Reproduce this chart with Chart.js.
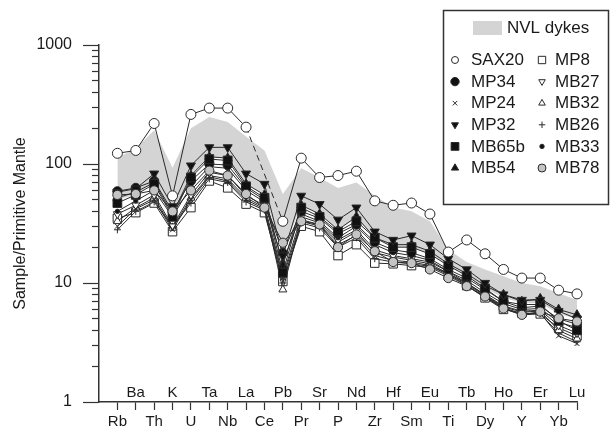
<!DOCTYPE html>
<html><head><meta charset="utf-8">
<script src="https://cdn.jsdelivr.net/npm/chart.js@4/dist/chart.umd.min.js"></script>
<style>html,body{margin:0;padding:0;background:#fff;}</style>
</head><body>
<canvas id="c" width="611" height="430"></canvas>
<script>
// ---------- data ----------
const elements = ['Rb','Ba','Th','K','U','Ta','Nb','La','Ce','Pb','Pr','Sr','P','Nd','Zr','Hf','Sm','Eu','Ti','Tb','Dy','Ho','Y','Er','Yb','Lu'];
const bottomRowLabels = ['Rb','Th','U','Nb','Ce','Pr','P','Zr','Sm','Ti','Dy','Y','Yb'];
const topRowLabels = ['Ba','K','Ta','La','Pb','Sr','Nd','Hf','Eu','Tb','Ho','Er','Lu'];
const yTickValues = [1, 10, 100, 1000];
const yTitle = 'Sample/Primitive Mantle';
const bandLabel = 'NVL dykes';

const nvlLower = [50,55,70,38,80,115,110,68,55,18,45,38,28,35,24,20,20,17.5,14,11.5,9,7.5,6.8,6.8,5.5,5];
const nvlUpper = [113,135,192,93,200,248,225,170,130,56,92,77,63,70,54,43,40,33,19,15,13,11.4,10,9.4,8.2,7.2];

const SAX20 = [123,130,219,54,261,295,295,204,null,33,112,77,80,87,49,45,47,38,18.2,23,17.6,13,11,11,8.7,8.1];
const MP34  = [59,63,72,40,72,100,98,63,50,17.9,40,35,26,31,22,19,18,16,13,11,8.8,7,6.2,6.4,5,4.5];
const MP24  = [30,42,50,28,50,78,72,50,42,11,33,30,21,25,17,15.5,15,14,12,9.8,7.8,6.2,5.5,5.6,3.6,3.1];
const MP32  = [58,62,83,44,97,138,138,83,68,17,54,46,34,43,27,23,25,21,16,13,10,8,7.2,7.2,5.8,5.0];
const MB65b = [47,55,68,36,77,110,107,65,52,12.2,43,36,27,33,24,20,20,17.5,14,11.5,9,7,6.6,6.6,4.8,4.0];
const MB54  = [52,58,70,38,80,115,112,68,55,14,45,38,28,36,24,21,21,18.5,14.5,12,9.5,8,7,7.4,6,5.4];
const MP8   = [35,39,47,27,43,72,63,46,39,10.3,30,27,17,21,14.7,14.5,14,13.5,11.5,9.5,7.5,6,5.6,5.5,4.2,3.6];
const MB27  = [38,45,55,30,55,85,80,54,45,11.5,36,32,23,28,19,17,16,15,12.5,10,8,6.4,5.8,5.9,4.4,3.8];
const MB32  = [33,43,52,29,52,80,75,52,43,8.8,34,31,22,27,18,16.5,15.5,14.5,12,10,7.9,6.3,5.7,5.8,4.0,3.4];
const MB26  = [28,40,48,30,47,75,70,48,41,10,32,29,20,24,16,15,14.5,13.8,11.8,9.6,7.6,6.1,5.4,5.5,3.8,3.2];
const MB33  = [40,49,60,36,65,95,92,60,48,15,38,33,24,30,21,18,17,15.5,12.5,10.5,8.3,6.7,6,6.1,4.7,4.2];
const MB78  = [55,56,60,40,60,88,80,56,43,21.8,33,31,20,25.6,18.5,15,14.7,13,11,9.4,7.7,6.1,5.4,5.75,5.05,4.75];

// ---------- build ----------
const xLabels = [''].concat(elements);
const pad = arr => [null].concat(arr);
const INK = '#2a2a2a';
const FONT = "'Liberation Sans', Arial, Helvetica, sans-serif";
Chart.defaults.font.family = FONT;
Chart.defaults.color = '#1a1a1a';

function sample(label, values, style) {
  return Object.assign({
    label, data: pad(values), borderColor: INK, borderWidth: 1,
    pointBorderColor: INK, pointBorderWidth: 1, tension: 0, fill: false,
    order: 0
  }, style);
}

const samples = [
  sample('SAX20', SAX20, {pointStyle:'circle', pointRadius:5, pointBackgroundColor:'#fff', spanGaps:true,
     segment:{borderDash: c => (c.p0.skip || c.p1.skip) ? [6,4] : undefined}, lgR:3.5}),
  sample('MB78', MB78, {pointStyle:'circle', pointRadius:4.6, pointBackgroundColor:'#c4c4c4', lgR:4}),
  sample('MP32', MP32, {pointStyle:'triangle', pointRotation:180, pointRadius:5.2, pointBackgroundColor:'#111', lgR:4}),
  sample('MB65b', MB65b, {pointStyle:'rect', pointRadius:6.2, pointBackgroundColor:'#111', lgR:5.5}),
  sample('MB54', MB54, {pointStyle:'triangle', pointRadius:5.2, pointBackgroundColor:'#111', lgR:4.2}),
  sample('MP34', MP34, {pointStyle:'circle', pointRadius:4.6, pointBackgroundColor:'#111', lgR:4.2}),
  sample('MB33', MB33, {pointStyle:'circle', pointRadius:2.2, pointBackgroundColor:'#111', lgR:2.2}),
  sample('MP24', MP24, {pointStyle:'crossRot', pointRadius:3.5, pointBackgroundColor:'#111', lgR:3.2}),
  sample('MB27', MB27, {pointStyle:'triangle', pointRotation:180, pointRadius:4.6, pointBackgroundColor:'#fff', lgR:3.8}),
  sample('MB32', MB32, {pointStyle:'triangle', pointRadius:4.6, pointBackgroundColor:'#fff', lgR:3.8}),
  sample('MB26', MB26, {pointStyle:'cross', pointRadius:3.5, pointBackgroundColor:'#111', lgR:3.2}),
  sample('MP8', MP8, {pointStyle:'rect', pointRadius:6, pointBackgroundColor:'#fff', lgR:5.2}),
];

const datasets = [
  {label:'nvl-low', data: pad(nvlLower), borderWidth:0, pointRadius:0, fill:false, order:10, tension:0},
  {label:bandLabel, data: pad(nvlUpper), borderWidth:0, pointRadius:0, fill:'-1', backgroundColor:'#d4d4d4', order:10, tension:0},
].concat(samples);

const legendLeft = ['SAX20','MP34','MP24','MP32','MB65b','MB54'];
const legendRight = ['MP8','MB27','MB32','MB26','MB33','MB78'];

const boxLegend = {
  id: 'boxLegend',
  afterDraw(chart) {
    const ctx = chart.ctx;
    ctx.save();
    ctx.strokeStyle = '#333'; ctx.lineWidth = 1.5;
    ctx.strokeRect(443.5, 10.5, 165, 194);
    ctx.fillStyle = '#d4d4d4';
    ctx.fillRect(473, 21, 29, 14);
    ctx.fillStyle = '#1a1a1a';
    ctx.font = '17px ' + FONT;
    ctx.textBaseline = 'middle';
    ctx.textAlign = 'left';
    ctx.fillText(bandLabel, 507, 28.5);
    const drawItem = (name, mx, tx, y) => {
      const ds = chart.data.datasets.find(d => d.label === name);
      ctx.save();
      ctx.fillStyle = ds.pointBackgroundColor;
      ctx.strokeStyle = INK;
      ctx.lineWidth = 1;
      Chart.helpers.drawPoint(ctx, {pointStyle: ds.pointStyle, rotation: ds.pointRotation || 0,
        radius: ds.lgR, borderWidth: 1}, mx, y);
      ctx.restore();
      ctx.fillStyle = '#1a1a1a';
      ctx.fillText(name, tx, y + 0.5);
    };
    legendLeft.forEach((n, i) => drawItem(n, 455, 471, 60 + i * 21.6));
    legendRight.forEach((n, i) => drawItem(n, 542, 555, 60 + i * 21.6));
    ctx.restore();
  }
};

new Chart(document.getElementById('c'), {
  type: 'line',
  data: { labels: xLabels, datasets },
  options: {
    responsive: false, animation: false, devicePixelRatio: 1,
    layout: { padding: { left: 0, right: 34, top: 45, bottom: 0 } },
    plugins: { legend: { display: false }, tooltip: { enabled: false } },
    scales: {
      x: {
        type: 'category', position: 'bottom', offset: false,
        afterFit: axis => { axis.height = 28; },
        ticks: { autoSkip: false, maxRotation: 0, minRotation: 0, padding: 3,
          font: { size: 15 }, color: '#1a1a1a',
          callback: (v, i) => bottomRowLabels.includes(xLabels[i]) ? xLabels[i] : '' },
        grid: { drawOnChartArea: false, tickLength: 8, tickWidth: 1.2,
          tickColor: c => c.index === 0 ? 'rgba(0,0,0,0)' : '#333' },
        border: { color: '#333', width: 1.5 }
      },
      xTop: {
        type: 'category', position: { y: 1.42 }, offset: false,
        ticks: { autoSkip: false, maxRotation: 0, minRotation: 0, padding: 0,
          font: { size: 15 }, color: '#1a1a1a',
          callback: (v, i) => topRowLabels.includes(xLabels[i]) ? xLabels[i] : '' },
        grid: { display: false, drawTicks: false },
        border: { display: false }
      },
      y: {
        type: 'logarithmic', position: 'left', min: 1, max: 1000,
        afterFit: axis => { axis.width = 99; },
        afterBuildTicks: axis => { axis.ticks = yTickValues.map(v => ({ value: v, major: true })); },
        ticks: { autoSkip: false, padding: 11, font: { size: 16 }, color: '#1a1a1a',
          callback: v => String(v) },
        grid: { drawOnChartArea: false, tickLength: 16, tickWidth: 1.2, tickColor: '#333' },
        border: { color: '#333', width: 1.5 },
        title: { display: true, text: yTitle, font: { size: 16 }, color: '#1a1a1a',
          padding: { top: 11, bottom: 0 } }
      },
      yMinor: {
        type: 'logarithmic', position: { x: 0 }, min: 1, max: 1000,
        afterBuildTicks: axis => {
          const t = [];
          for (let d = 1; d < 1000; d *= 10) for (let k = 2; k <= 9; k++) t.push({ value: d * k });
          axis.ticks = t;
        },
        ticks: { display: false, autoSkip: false },
        grid: { drawOnChartArea: false, tickLength: 7, tickWidth: 1.2, tickColor: '#333' },
        border: { display: false }
      }
    }
  },
  plugins: [boxLegend]
});
</script>
</body></html>
